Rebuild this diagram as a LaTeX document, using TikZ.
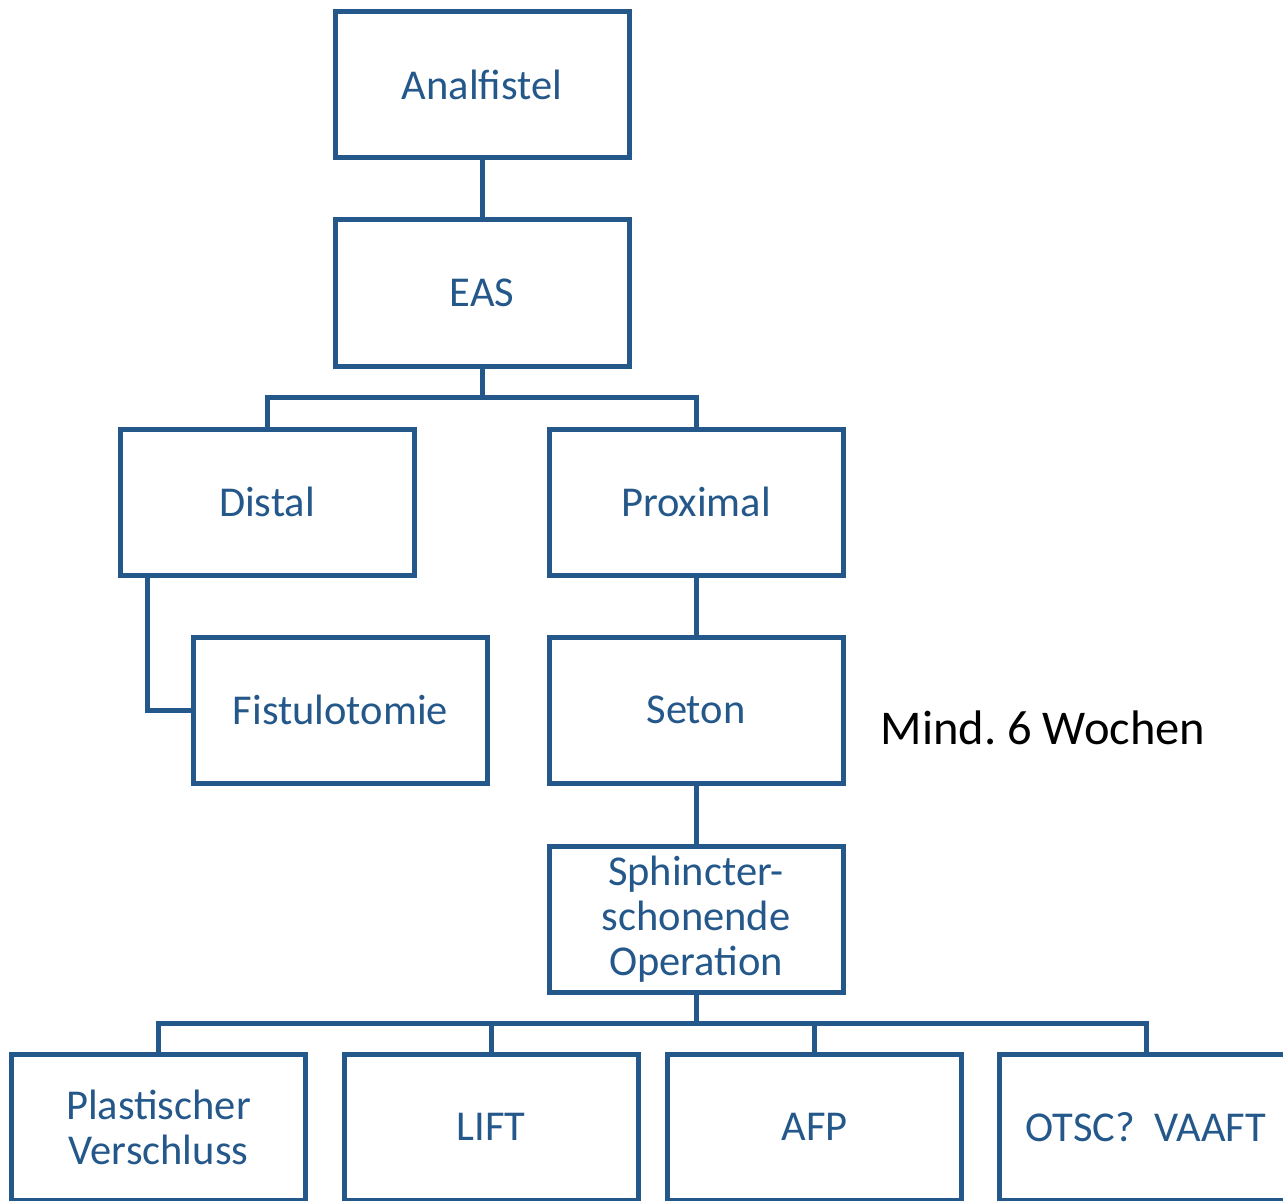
\documentclass[tikz,border=0pt]{standalone}
\usepackage{fontspec}
\setmainfont{Carlito}
\definecolor{boxblue}{HTML}{25588A}
\frenchspacing
\begin{document}
\begin{tikzpicture}[x=1pt,y=-1pt,
  stepbox/.style={draw=boxblue,line width=5pt,minimum width=294pt,minimum height=146pt,
    inner sep=0pt,text=boxblue,align=center,font=\fontsize{42.5}{45}\selectfont,fill=white},
  link/.style={draw=boxblue,line width=5pt}]
\clip (0,0) rectangle (1283,1201);
\useasboundingbox (0,0) rectangle (1283,1201);
\node[stepbox] (ana) at (482,85) {Analfistel};
\node[stepbox] (eas) at (482,293) {EAS};
\node[stepbox] (dist) at (267,502) {Distal};
\node[stepbox] (prox) at (696,502) {Proximal};
\node[stepbox] (fist) at (340.5,710) {Fistulotomie};
\node[stepbox] (seton) at (696,710) {Seton};
\node[stepbox] (sph) at (696,919) {Sphincter-\\schonende\\Operation};
\node[stepbox] (plast) at (158.5,1127) {Plastischer\\Verschluss};
\node[stepbox] (lift) at (491,1127) {LIFT};
\node[stepbox] (afp) at (814.5,1127) {AFP};
\node[stepbox] (otsc) at (1146,1127) {OTSC?\ \ VAAFT};
\node[font=\fontsize{48.5}{52}\selectfont,anchor=center] (wochen) at (1043,728) {Mind. 6 Wochen};
\coordinate (bus1) at (482,397);
\coordinate (bus2) at (696,1023);
\draw[link] (ana.south) -- (eas.north);
\draw[link] (eas.south) -- (bus1);
\draw[link] (dist.north) |- (bus1) -| (prox.north);
\draw[link] ([xshift=30pt]dist.south west) |- (fist.west);
\draw[link] (prox.south) -- (seton.north);
\draw[link] (seton.south) -- (sph.north);
\draw[link] (sph.south) -- (bus2);
\draw[link] (plast.north) |- (bus2) -| (otsc.north);
\draw[link] (lift.north) -- (lift.north |- bus2);
\draw[link] (afp.north) -- (afp.north |- bus2);
\end{tikzpicture}
\end{document}
